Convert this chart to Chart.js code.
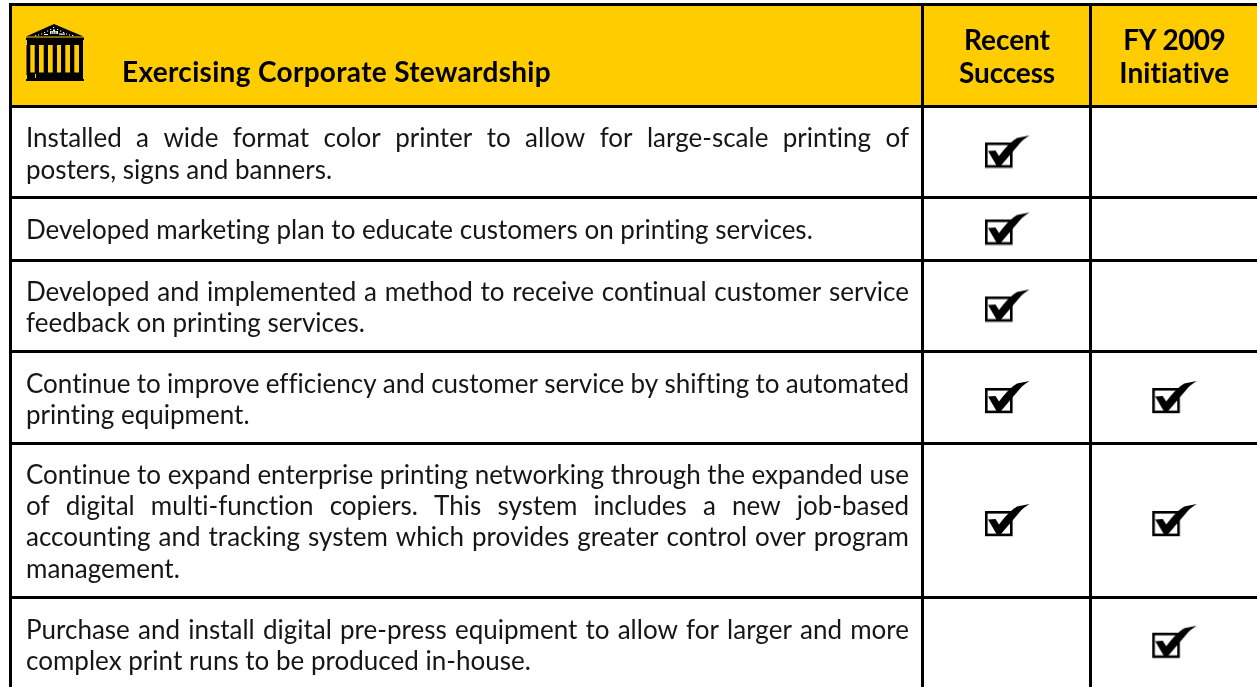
<!DOCTYPE html>
<html><head><meta charset="utf-8">
<style>html,body{margin:0;padding:0;background:#fff}canvas{display:block}</style>
<script src="https://cdn.jsdelivr.net/npm/chart.js@4/dist/chart.umd.min.js"></script>
</head><body><div style="width:1257px;height:687px"><canvas id="c" width="1257" height="687"></canvas></div>
<script>
const title = "Exercising Corporate Stewardship";
const columnHeads = [["Recent","Success"],["FY 2009","Initiative"]];
const rowLines = [
 ["Installed a wide format color printer to allow for large-scale printing of","posters, signs and banners."],
 ["Developed marketing plan to educate customers on printing services."],
 ["Developed and implemented a method to receive continual customer service","feedback on printing services."],
 ["Continue to improve efficiency and customer service by shifting to automated","printing equipment."],
 ["Continue to expand enterprise printing networking through the expanded use","of digital multi-function copiers.  This system includes a new job-based","accounting and tracking system which provides greater control over program","management."],
 ["Purchase and install digital pre-press equipment to allow for larger and more","complex print runs to be produced in-house."]
];
const recentSuccess = [1,1,1,1,1,0];
const fy2009Initiative = [0,0,0,1,1,1];

// layout (in the scale's own units, which are page pixels)
const rowEdges = [4.5,106.5,197.5,260.5,351.5,443.5,597.5,687];
const colEdges = [10.5,922.5,1090.5,1257];
const rowBaselines = [[147,179],[239],[301,332],[393,424],[484,515,546,578],[639,670]];

function makeCheck(){
  const c=document.createElement('canvas');c.width=46;c.height=34;
  const g=c.getContext('2d');g.translate(1,1);
  g.strokeStyle='#000';g.lineWidth=2.6;g.strokeRect(1.3,8.3,25,22.6);
  g.fillStyle='#000';g.beginPath();
  g.moveTo(3,15.5);g.lineTo(10.5,15);g.lineTo(14,20.5);
  g.quadraticCurveTo(24,7,32,2.5);g.lineTo(44.5,0);
  g.quadraticCurveTo(38,4,36,6.5);g.lineTo(16,30);g.lineTo(11.5,30);g.closePath();g.fill();
  return c;
}
const check=makeCheck();
const colCenter=i=>(colEdges[i+1]+colEdges[i+2])/2+0.5;
const rowCenter=i=>(rowEdges[i+1]+rowEdges[i+2])/2-0.5;
function pts(flags,col){return flags.map((f,i)=>f?{x:colCenter(col),y:rowCenter(i)}:null).filter(Boolean);}
const FONT='Lato';

function temple(c){
  c.fillStyle='#000';
  c.beginPath();c.moveTo(54,24);c.lineTo(83.5,36.5);c.lineTo(26,36.5);c.closePath();c.fill();
  c.fillRect(26,37.5,58,2.5);
  c.fillRect(27,40,56,5);
  [[26.5,3.8],[34.7,4.3],[43.7,4.3],[52.7,4.3],[61,4.3],[70,4.3],[79,4]].forEach(p=>c.fillRect(p[0],45,p[1],30));
  c.fillRect(27,72.5,56,6.5);
  c.fillRect(26,79,58,2);
  c.fillStyle='#FFCC00';c.fillRect(35,74,1,4);
  c.fillStyle='#fff';
  [[53,27],[50,29],[57,29],[47,30.5],[60,30.5],[44,32],[63,32],[41,33.5],[66,33.5],[38,34.5],[69,34.5],[72,35],[35,35.2]]
    .forEach(p=>c.fillRect(p[0],p[1],1.2,1));
  c.fillRect(50,31,8,3);c.fillRect(53,29.5,2,2);
  c.fillRect(44,34,4,1);c.fillRect(59,33.5,6,1.2);
  c.fillStyle='#000';[51.5,53.5,55.5].forEach(x=>c.fillRect(x,31.5,.8,2.5));
}
function fitted(c,txt,x,y,w,align){
  c.letterSpacing='0.01px';
  const n=txt.length,base=c.measureText(txt).width;
  const ls=(w-base)/n+0.01;
  c.letterSpacing=ls.toFixed(3)+'px';
  c.textAlign='left';
  c.fillText(txt,align==='center'?x-w/2:x,y);
  c.letterSpacing='0.01px';
}
const tableDraw={id:'tableDraw',
 beforeDraw(ch){
  const c=ch.ctx,X=ch.scales.x,Y=ch.scales.y;
  c.save();c.fillStyle='#FFCC00';
  const x0=X.getPixelForValue(colEdges[0]),y0=Y.getPixelForValue(rowEdges[0]),y1=Y.getPixelForValue(rowEdges[1]);
  c.fillRect(x0,y0,ch.width-x0,y1-y0);
  c.restore();
 },
 afterDatasetsDraw(ch){
  const c=ch.ctx,X=ch.scales.x,Y=ch.scales.y;
  c.save();
  temple(c);
  c.fillStyle='#000';c.textBaseline='alphabetic';c.textAlign='left';
  c.font=`bold 28px ${FONT}`;
  fitted(c,title,X.getPixelForValue(122),Y.getPixelForValue(82),429,'left');
  const widths=[[86,96],[102,110]];
  columnHeads.forEach((h,i)=>h.forEach((t,k)=>
    fitted(c,t,X.getPixelForValue(colCenter(i)),Y.getPixelForValue([50,83][k]),widths[i][k],'center')));
  c.fillStyle='#161616';
  c.font=`26px ${FONT}`;c.letterSpacing='0.01px';
  const left=X.getPixelForValue(26),right=X.getPixelForValue(909);
  rowLines.forEach((lines,r)=>lines.forEach((ln,k)=>{
      const base=Y.getPixelForValue(rowBaselines[r][k]);
      if(k<lines.length-1){
        const words=ln.split(/ +/);const tw=words.reduce((a,w)=>a+c.measureText(w).width,0);
        const gap=(right-left-tw)/(words.length-1);let x=left;
        words.forEach(w=>{c.fillText(w,x,base);x+=c.measureText(w).width+gap;});
      } else c.fillText(ln,left,base);
  }));
  c.restore();
 }};
const gridOpts=(edges)=>({
  type:'linear',
  afterBuildTicks(s){s.ticks=edges.map(v=>({value:v}));},
  ticks:{display:false},border:{display:false},
  grid:{color:'#000',lineWidth:3,drawTicks:false}
});
new Chart(document.getElementById('c'),{
 type:'scatter',
 data:{datasets:[
  {label:columnHeads[0].join(' '),data:pts(recentSuccess,0),pointStyle:check,pointRadius:1,clip:false},
  {label:columnHeads[1].join(' '),data:pts(fy2009Initiative,1),pointStyle:check,pointRadius:1,clip:false}]},
 options:{responsive:false,animation:false,layout:{autoPadding:false,padding:{left:9,top:3,right:0,bottom:0}},
  plugins:{legend:{display:false},tooltip:{enabled:false}},
  scales:{
   x:{...gridOpts(colEdges.slice(0,3)),min:9,max:1257},
   y:{...gridOpts(rowEdges.slice(0,7)),min:3,max:687,reverse:true}}},
 plugins:[tableDraw]});
</script></body></html>
